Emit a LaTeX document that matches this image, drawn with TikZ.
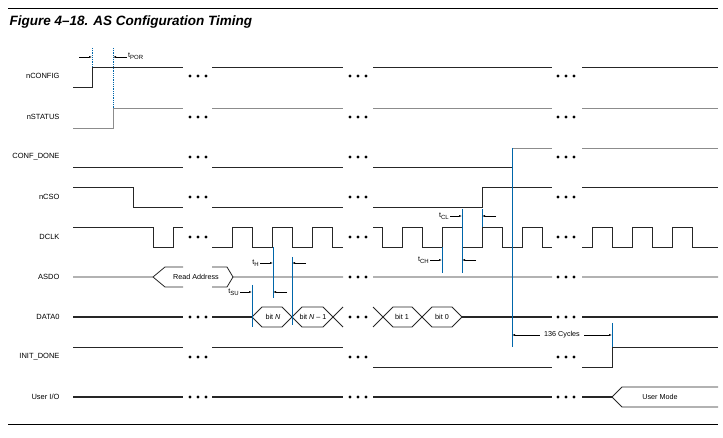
\documentclass[tikz,border=0pt]{standalone}
\usepackage{fontspec}
\setmainfont{Liberation Sans}
\usetikzlibrary{arrows.meta}
\definecolor{tblue}{RGB}{0,102,170}
\tikzset{
  sig/.style={line width=0.8pt,black!85},
  bus/.style={line width=1.8pt,black!85},
  gsig/.style={line width=0.8pt,black!45},
  tline/.style={line width=1pt,tblue},
  lbl/.style={font=\fontsize{7.5}{9}\selectfont,anchor=east},
  tm/.style={-{Latex[length=3pt,width=2pt]},line width=0.5pt},
  tx/.style={font=\fontsize{7.2}{8.5}\selectfont,inner sep=1pt}
}
\newcommand{\gapdots}[2]{\foreach \d in {0,8,16} \fill (#1+\d,#2) circle (1.7pt);}
\newcommand{\tsub}[1]{t\raisebox{-2.2pt}{\fontsize{6}{6}\selectfont #1}}
\begin{document}
\begin{tikzpicture}[x=1pt,y=-1pt]
  \useasboundingbox (0,0) rectangle (723,438);
  \draw[line width=1pt] (8,9) -- (718,9);
  \draw[line width=1pt] (8,424) -- (718,424);
  \node[anchor=west,font=\fontsize{13.5}{15}\selectfont\bfseries\itshape] (title) at (6,22) {Figure 4–18. AS Configuration Timing};

  % labels
  \node[lbl] (nconfig) at (63,76) {nCONFIG};
  \node[lbl] (nstatus) at (63,117) {nSTATUS};
  \node[lbl] (confdone) at (63,157) {CONF\_DONE};
  \node[lbl] (ncso) at (63,197) {nCSO};
  \node[lbl] (dclk) at (63,237) {DCLK};
  \node[lbl] (asdo) at (63,277) {ASDO};
  \node[lbl] (data) at (63,317) {DATA0};
  \node[lbl] (initdone) at (63,357) {INIT\_DONE};
  \node[lbl] (userio) at (63,397) {User I/O};

  % dots
  \foreach \y in {76,117,157,197,237,317,357,397} {
    \gapdots{190}{\y} \gapdots{350}{\y} \gapdots{558}{\y}
  }
  \foreach \y in {277} { \gapdots{350}{\y} \gapdots{558}{\y} }

  % nCONFIG
  \draw[sig] (73,87) -- (92,87) -- (92,67) -- (183,67) (212,67) -- (343,67) (373,67) -- (552,67) (582,67) -- (718,67);
  % nSTATUS
  \draw[gsig] (73,128) -- (113,128) -- (113,108) -- (183,108) (212,108) -- (343,108) (373,108) -- (552,108) (582,108) -- (718,108);
  % CONF_DONE
  \draw[sig] (73,167) -- (183,167) (212,167) -- (343,167) (373,167) -- (512,167) -- (512,148);
  \draw[gsig] (512,148) -- (552,148) (582,148) -- (718,148);
  % nCSO
  \draw[sig] (73,187) -- (133,187) -- (133,207) -- (183,207) (212,207) -- (343,207) (373,207) -- (482,207) -- (482,187) -- (552,187) (582,187) -- (718,187);
  % DCLK
  \draw[sig] (73,227) -- (153,227) -- (153,247) -- (173,247) -- (173,227) -- (183,227);
  \draw[sig] (212,247) -- (232,247) -- (232,227) -- (252,227) -- (252,247) -- (272,247) -- (272,227) -- (292,227) -- (292,247) -- (312,247) -- (312,227) -- (332,227) -- (332,247) -- (343,247);
  \draw[sig] (373,227) -- (382,227) -- (382,247) -- (402,247) -- (402,227) -- (422,227) -- (422,247) -- (442,247) -- (442,227) -- (462,227) -- (462,247) -- (482,247) -- (482,227) -- (502,227) -- (502,247) -- (522,247) -- (522,227) -- (542,227) -- (542,247) -- (552,247);
  \draw[sig] (582,247) -- (592,247) -- (592,227) -- (612,227) -- (612,247) -- (632,247) -- (632,227) -- (652,227) -- (652,247) -- (672,247) -- (672,227) -- (692,227) -- (692,247) -- (718,247);
  % ASDO
  \draw[sig] (73,277) -- (153,277) -- (165,267) -- (183,267) (212,267) -- (227,267) -- (233,277) -- (343,277) (373,277) -- (552,277) (582,277) -- (718,277);
  \draw[sig] (153,277) -- (165,287) -- (183,287) (212,287) -- (227,287) -- (233,277);
  \node[tx] (readaddr) at (196,277) {Read Address};
  % DATA0
  \draw[bus] (73,317) -- (183,317) (212,317) -- (252,317) (462,317) -- (552,317) (582,317) -- (718,317);
  \draw[sig] (252,317) -- (262,307) -- (282,307) -- (302,327) -- (323,327) -- (343,307)
             (252,317) -- (262,327) -- (282,327) -- (302,307) -- (323,307) -- (343,327);
  \draw[sig] (373,307) -- (393,327) -- (412,327) -- (432,307) -- (452,307) -- (462,317)
             (373,327) -- (393,307) -- (412,307) -- (432,327) -- (452,327) -- (462,317);
  \node[tx] (bitn) at (273,317) {bit \textit{N}};
  \node[tx] (bitn1) at (313,317) {bit \textit{N} – 1};
  \node[tx] (bit1) at (402,317) {bit 1};
  \node[tx] (bit0) at (442,317) {bit 0};
  % INIT_DONE
  \draw[sig] (73,347) -- (183,347) (212,347) -- (343,347) (373,367) -- (552,367) (582,367) -- (612,367) -- (612,347) -- (718,347);
  % User I/O
  \draw[bus] (73,397) -- (183,397) (212,397) -- (343,397) (373,397) -- (552,397) (582,397) -- (612,397);
  \draw[sig] (718,387) -- (622,387) -- (612,397) -- (622,407) -- (718,407);
  \node[tx] (usermode) at (660,397) {User Mode};

  % timing marks
  \draw[tblue,densely dotted,line width=0.8pt] (92,48) -- (92,67) (113,48) -- (113,108);
  \draw[tm] (79,57) -- (92,57);
  \draw[tm] (127,57) -- (113,57);
  \node[tx,anchor=west] (tpor) at (127,56) {\tsub{POR}};
  \draw[tline] (273,247) -- (273,298) (292,257) -- (292,325) (252,285) -- (252,327);
  \draw[tm] (260,263) -- (273,263);
  \draw[tm] (306,263) -- (292,263);
  \node[tx,anchor=east] (th) at (260,263) {\tsub{H}};
  \draw[tm] (240,292) -- (252,292);
  \draw[tm] (287,292) -- (273,292);
  \node[tx,anchor=east] (tsu) at (240,292) {\tsub{SU}};
  \draw[tline] (512,148) -- (512,347) (442,247) -- (442,273) (462,209) -- (462,273) (482,209) -- (482,227) (612,323) -- (612,347);
  \draw[tm] (450,216) -- (462,216);
  \draw[tm] (496,216) -- (482,216);
  \node[tx,anchor=east] (tcl) at (450,216) {\tsub{CL}};
  \draw[tm] (430,260) -- (442,260);
  \draw[tm] (476,260) -- (462,260);
  \node[tx,anchor=east] (tch) at (430,260) {\tsub{CH}};
  \node[tx,fill=white,inner xsep=4pt] (cyc) at (562,335) {136 Cycles};
  \draw[tm] (cyc.west) -- (512,335);
  \draw[tm] (cyc.east) -- (612,335);
\end{tikzpicture}
\end{document}
